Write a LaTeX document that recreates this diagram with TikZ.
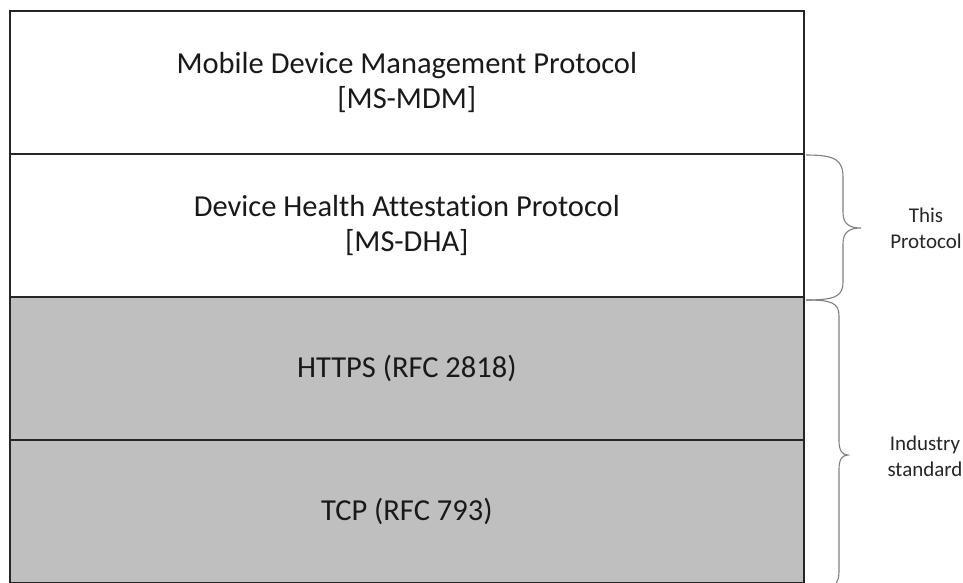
\documentclass[tikz,border=0pt]{standalone}
\usepackage{fontspec}
\setmainfont[Ligatures=NoCommon]{Carlito}
\begin{document}
\begin{tikzpicture}[x=1pt,y=-1pt,
  layer/.style={draw=black!85, line width=1.6pt, minimum width=794pt, minimum height=143pt, inner sep=0pt, anchor=north west, align=center, font=\fontsize{30.5}{35}\selectfont, text=black!90},
  graylayer/.style={layer, fill=black!25},
  bracepath/.style={draw=black!50, line width=1.1pt},
  sidelabel/.style={align=center, font=\fontsize{21}{26}\selectfont, text=black!85}]
\useasboundingbox (0,0) rectangle (963,583);
\node[layer] (r1) at (9,10) {Mobile Device Management Protocol\\{[MS-MDM]}};
\node[layer] (r2) at (9,153) {Device Health Attestation Protocol\\{[MS-DHA]}};
\node[graylayer] (r3) at (9,296) {HTTPS (RFC 2818)};
\node[graylayer] (r4) at (9,439) {TCP (RFC 793)};
\coordinate (b1top) at (806,155);
\coordinate (b1tip) at (861,228);
\coordinate (b1bot) at (806,300);
\coordinate (b2top) at (806,300);
\coordinate (b2tip) at (848,455);
\coordinate (b2bot) at (834,585);
\draw[bracepath] (b1top) .. controls (836,155) and (843,160) .. (843,178) -- (843,212)
  .. controls (843,223) and (848,228) .. (b1tip)
  .. controls (848,228) and (843,233) .. (843,244) -- (843,282)
  .. controls (843,296) and (836,300) .. (b1bot);
\draw[bracepath] (b2top) .. controls (832,300) and (839,303) .. (839,316) -- (839,441)
  .. controls (839,450) and (842,455) .. (b2tip)
  .. controls (842,455) and (839,460) .. (839,469) -- (839,572)
  .. controls (839,579) and (837,583) .. (b2bot);
\node[sidelabel] (l1) at (926,228) {This\\Protocol};
\node[sidelabel] (l2) at (925,456) {Industry\\standard};
\end{tikzpicture}
\end{document}
